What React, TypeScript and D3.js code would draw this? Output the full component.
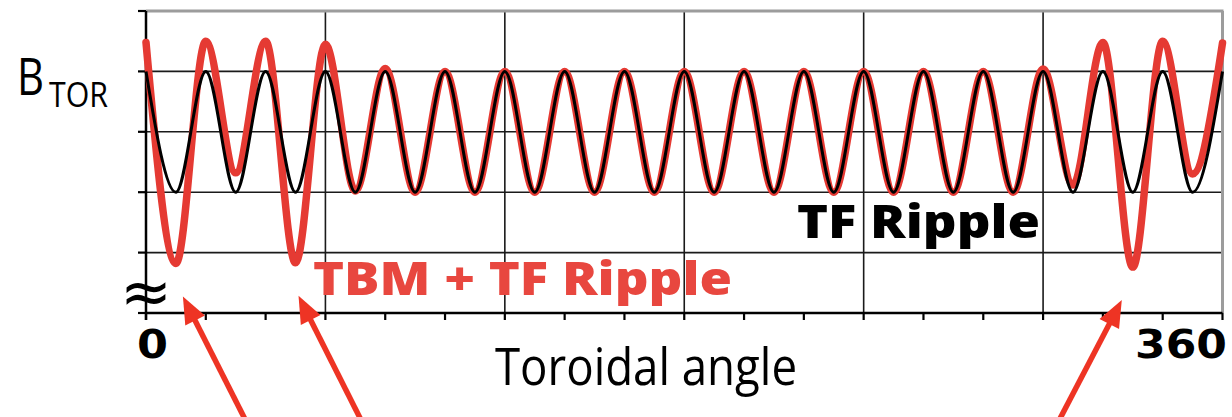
import React from "react";
import * as d3 from "d3";

// Toroidal angle (degrees) at each ripple extremum (18 TF coils -> period 20°)
const angles = [0, 10, 20, 30, 40, 50, 60, 70, 80, 90, 100, 110, 120, 130, 140, 150, 160, 170, 180,
  190, 200, 210, 220, 230, 240, 250, 260, 270, 280, 290, 300, 310, 320, 330, 340, 350, 360];

// TF Ripple (black) extrema values
const tfRipple = [4, 2, 4, 2, 4, 2, 4, 2, 4, 2, 4, 2, 4, 2, 4, 2, 4, 2, 4,
  2, 4, 2, 4, 2, 4, 2, 4, 2, 4, 2, 4, 2, 4, 2, 4, 2, 4];

// TBM + TF Ripple (red) extrema values
const tbmRipple = [4.48, 0.82, 4.5, 2.32, 4.5, 0.83, 4.45, 2.02, 4.05, 2, 4, 2, 4, 2, 4, 2, 4, 2, 4,
  2, 4, 2, 4, 2, 4, 2, 4, 2, 4, 2, 4.04, 2.12, 4.48, 0.76, 4.5, 2.3, 4.47];

const gridAngles = [60, 120, 180, 240, 300];
const tickAngles = [0, 20, 40, 60, 80, 100, 120, 140, 160, 180, 200, 220, 240, 260, 280, 300, 320, 340, 360];
const gridValues = [1, 2, 3, 4];
const yTickValues = [0, 1, 2, 3, 4, 5];
const xTickLabels = ["0", "360"];

// arrows pointing at TBM dips: angle of the dip, horizontal offset of tip and tail
const arrowDips = [10, 50, 330];
const arrowTipDx = [7, 3, -11];
const arrowTailDx = [62, 62, -62];

export default function App() {
  const W = 1232, H = 417;
  const x = d3.scaleLinear().domain([0, 360]).range([146, 1222.5]);
  const y = d3.scaleLinear().domain([0, 5]).range([313, 11]);

  const line = d3.line<number>()
    .x((_, i) => x(angles[i]))
    .y((d) => y(d))
    .curve(d3.curveMonotoneX);

  const red = "#E53A33";
  const arrowRed = "#EE3424";

  return (
    <svg width={W} height={H} style={{ position: "absolute", left: 0, top: 0, background: "#fff" }}
      fontFamily="'Open Sans', sans-serif">
      <rect x={0} y={0} width={W} height={H} fill="#fff" />
      {/* grid */}
      {gridValues.map((v) => (
        <line key={"h" + v} x1={x(0)} x2={x(360)} y1={y(v)} y2={y(v)} stroke="#1a1a1a" strokeWidth={1.6} />
      ))}
      {gridAngles.map((a) => (
        <line key={"v" + a} x1={x(a)} x2={x(a)} y1={y(5)} y2={y(0)} stroke="#1a1a1a" strokeWidth={1.6} />
      ))}
      {/* frame top/right */}
      <line x1={x(0)} x2={x(360) + 1} y1={y(5)} y2={y(5)} stroke="#9c9c9c" strokeWidth={3} />
      <line x1={x(360)} x2={x(360)} y1={y(5)} y2={y(0)} stroke="#9c9c9c" strokeWidth={3} />
      {/* axes */}
      <line x1={x(0)} x2={x(360)} y1={y(0)} y2={y(0)} stroke="#000" strokeWidth={2.5} />
      <line x1={x(0)} x2={x(0)} y1={y(5)} y2={y(0) + 7} stroke="#000" strokeWidth={2.5} />
      {yTickValues.map((v) => (
        <line key={"yt" + v} x1={x(0) - 8} x2={x(0)} y1={y(v)} y2={y(v)} stroke="#000" strokeWidth={2.2} />
      ))}
      {tickAngles.map((a) => (
        <line key={"xt" + a} x1={x(a)} x2={x(a)} y1={y(0)} y2={y(0) + 7} stroke="#000" strokeWidth={2.2} />
      ))}
      {/* curves */}
      <path d={line(tbmRipple) || ""} fill="none" stroke={red} strokeWidth={7.5} strokeLinejoin="round" strokeLinecap="round" />
      <path d={line(tfRipple) || ""} fill="none" stroke="#000" strokeWidth={3} strokeLinejoin="round" />
      {/* axis break symbol */}
      <text x={x(0)} y={313} textAnchor="middle" fontFamily="'DejaVu Sans', sans-serif" fontWeight={400} fontSize={62}>≈</text>
      {/* x labels */}
      <text x={137} y={358} fontFamily="'DejaVu Sans', sans-serif" fontWeight={700} fontSize={39}
        textLength={31} lengthAdjust="spacingAndGlyphs">{xTickLabels[0]}</text>
      <text x={1135} y={358} fontFamily="'DejaVu Sans', sans-serif" fontWeight={700} fontSize={39}
        textLength={92} lengthAdjust="spacingAndGlyphs">{xTickLabels[1]}</text>
      <text x={495} y={385} fontSize={51} textLength={302} lengthAdjust="spacingAndGlyphs">Toroidal angle</text>
      {/* y label */}
      <text x={17} y={95} fontSize={52} textLength={27} lengthAdjust="spacingAndGlyphs">B</text>
      <text x={49} y={107} fontSize={34} textLength={59} lengthAdjust="spacingAndGlyphs">TOR</text>
      {/* series labels */}
      <text x={313} y={295} fontSize={46} fontWeight={800} fill="#E8473F" textLength={419} lengthAdjust="spacingAndGlyphs">TBM + TF Ripple</text>
      <text x={797} y={238} fontSize={46} fontWeight={800} fill="#000" textLength={243} lengthAdjust="spacingAndGlyphs">TF Ripple</text>
      {/* arrows */}
      {arrowDips.map((a, i) => {
        const di = angles.indexOf(a);
        const tx = x(a) + arrowTipDx[i];
        const ty = y(tbmRipple[di]) + 33;
        const sx = tx + arrowTailDx[i];
        const sy = H + 2;
        const ang = Math.atan2(ty - sy, tx - sx);
        const hl = 27, hw = 11;
        const bx = tx - hl * Math.cos(ang), by = ty - hl * Math.sin(ang);
        const px = -Math.sin(ang), py = Math.cos(ang);
        return (
          <g key={"ar" + a}>
            <line x1={sx} y1={sy} x2={bx + 2 * Math.cos(ang)} y2={by + 2 * Math.sin(ang)} stroke={arrowRed} strokeWidth={5.5} />
            <polygon points={`${tx},${ty} ${bx + px * hw},${by + py * hw} ${bx - px * hw},${by - py * hw}`} fill={arrowRed} />
          </g>
        );
      })}
    </svg>
  );
}
